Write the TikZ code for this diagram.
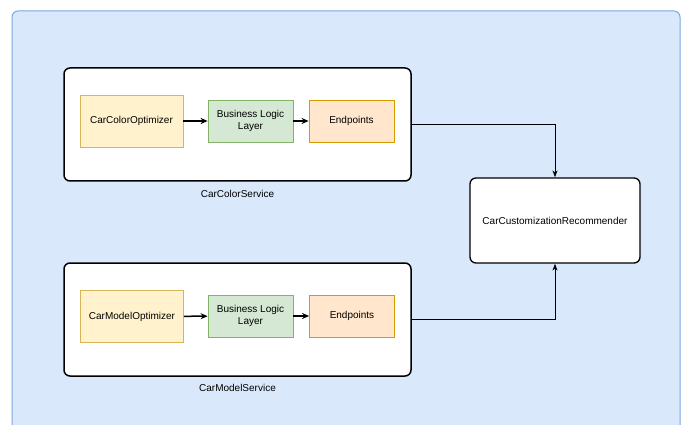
\documentclass[tikz,border=0pt]{standalone}
\usepackage{fontspec}
\setmainfont{Liberation Sans}
\usetikzlibrary{arrows.meta}
\usetikzlibrary{calc}

\definecolor{bgfill}{HTML}{DAE8FC}
\definecolor{bgline}{HTML}{7EA6E0}
\definecolor{optfill}{HTML}{FFF2CC}
\definecolor{optline}{HTML}{D6B656}
\definecolor{logicfill}{HTML}{D5E8D4}
\definecolor{logicline}{HTML}{82B366}
\definecolor{endfill}{HTML}{FFE6CC}
\definecolor{endline}{HTML}{D79B00}

\begin{document}
\begin{tikzpicture}[x=1pt, y=-1pt, font=\fontsize{10}{12}\selectfont,
        service_style/.style={draw=black, line width=1.5pt, rounded corners=6pt, fill=white, minimum width=347pt, minimum height=113pt},
        opt_style/.style={draw=optline, fill=optfill, line width=0.8pt, minimum width=103pt, minimum height=52pt},
        logic_style/.style={draw=logicline, fill=logicfill, line width=0.8pt, minimum width=85pt, minimum height=42pt, align=center},
        end_style/.style={draw=endline, fill=endfill, line width=0.8pt, minimum width=85pt, minimum height=42pt},
        rec_style/.style={draw=black, line width=1.3pt, rounded corners=6pt, fill=white, minimum width=170pt, minimum height=85pt},
        inner_edge_style/.style={draw=black, line width=1.5pt, -{Stealth[length=7pt,width=6pt]}},
        outer_edge_style/.style={draw=black, line width=0.8pt, -{Stealth[length=7pt,width=5pt]}}]

        \useasboundingbox (0,0) rectangle (686,425);
        \clip (0,0) rectangle (686,425);

        % background panel, runs past the bottom edge
        \draw [fill=bgfill, draw=bgline, line width=1pt, rounded corners=6pt] (12,11) rectangle (680,450);

        \node [service_style](cs) at (237.5,124.5) {};
        \node (cs_label) at (237.5,194) {CarColorService};

        \node [opt_style](cs_opt) at (131.5,121) {CarColorOptimizer};
        \node [logic_style](cs_logic) at (250.5,121) {Business Logic\\Layer};
        \node [end_style](cs_end) at (351.5,121) {Endpoints};

        \node [service_style](ms) at (237.5,319.5) {};
        \node (ms_label) at (237.5,388) {CarModelService};

        \node [opt_style](ms_opt) at (132,316.5) {CarModelOptimizer};
        \node [logic_style](ms_logic) at (250.5,316) {Business Logic\\Layer};
        \node [end_style](ms_end) at (352,316) {Endpoints};

        \node [rec_style](rec) at (555,220.5) {CarCustomizationRecommender};

        \draw [inner_edge_style] (cs_opt) -- (cs_logic);
        \draw [inner_edge_style] (cs_logic) -- (cs_end);
        \draw [inner_edge_style] (ms_opt) -- (ms_logic);
        \draw [inner_edge_style] (ms_logic) -- (ms_end);

        \draw [outer_edge_style] (cs.east) -| (rec.north);
        \draw [outer_edge_style] (ms.east) -| (rec.south);

        \end{tikzpicture}
\end{document}
